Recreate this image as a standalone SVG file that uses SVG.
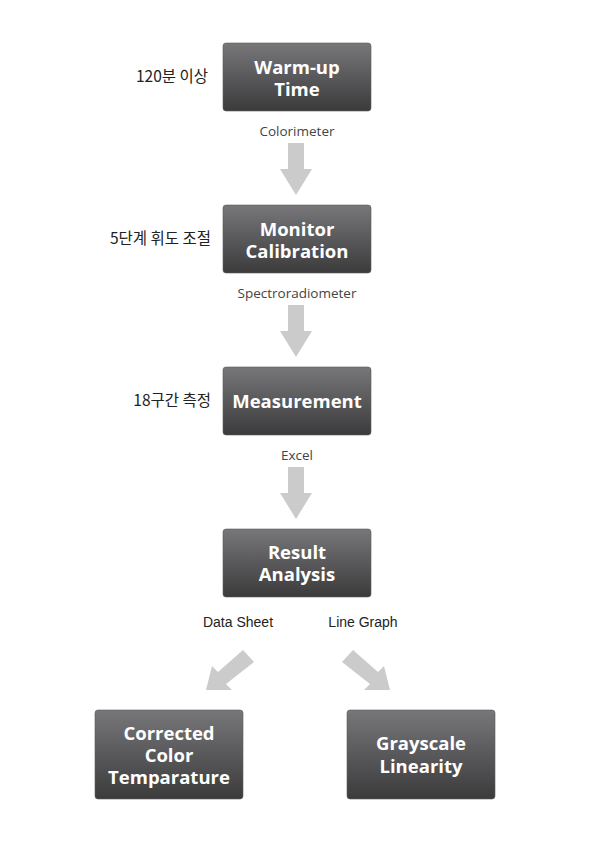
<svg xmlns="http://www.w3.org/2000/svg" width="596" height="842" viewBox="0 0 596 842">
<defs>
<linearGradient id="g" x1="0" y1="0" x2="0" y2="1">
<stop offset="0" stop-color="#77777a"/>
<stop offset="1" stop-color="#3b3b3c"/>
</linearGradient>
<style>
.box{fill:url(#g);stroke:#5a5a5a;stroke-width:0.6}
.t{font-family:"Open Sans","Liberation Sans",sans-serif;font-weight:bold;font-size:18.5px;fill:#fff;text-anchor:middle}
.l{font-family:"Open Sans","Liberation Sans",sans-serif;font-size:13.5px;fill:#444;text-anchor:middle}
.d{font-family:"Liberation Sans",sans-serif;font-size:14px;fill:#222;text-anchor:middle}
.k{font-family:"Noto Sans CJK KR","Liberation Sans",sans-serif;font-size:15.5px;fill:#222;text-anchor:end}
.a{fill:#cbcbcb}
</style>
</defs>
<rect width="596" height="842" fill="#fff"/>
<g id="connectors">
<polygon class="a" points="288,143 304,143 304,169 312,169 296,195 280,169 288,169"/>
<polygon class="a" points="288,305 304,305 304,331 312,331 296,357 280,331 288,331"/>
<polygon class="a" points="288,467 304,467 304,493 312,493 296,519 280,493 288,493"/>
<polygon class="a" points="243,650 254,662 226,684 232,690 206,690 212,666 218,672"/>
<polygon class="a" points="353,650 342,662 370,684 364,690 390,690 384,666 378,672"/>
</g>
<g id="labels">
<text class="l" x="297" y="136">Colorimeter</text>
<text class="l" x="297" y="298">Spectroradiometer</text>
<text class="l" x="297" y="460">Excel</text>
<text class="d" x="238" y="627">Data Sheet</text>
<text class="d" x="363" y="627">Line Graph</text>
<text class="k" x="208" y="82">120분 이상</text>
<text class="k" x="211" y="244">5단계 휘도 조절</text>
<text class="k" x="211" y="406">18구간 측정</text>
</g>
<g id="warmup">
<rect class="box" x="223" y="43" width="148" height="68" rx="3"/>
<text class="t" x="297" y="74">Warm-up</text>
<text class="t" x="297" y="96">Time</text>
</g>
<g id="calibration">
<rect class="box" x="223" y="205" width="148" height="68" rx="3"/>
<text class="t" x="297" y="236">Monitor</text>
<text class="t" x="297" y="258">Calibration</text>
</g>
<g id="measurement">
<rect class="box" x="223" y="367" width="148" height="68" rx="3"/>
<text class="t" x="297" y="408">Measurement</text>
</g>
<g id="analysis">
<rect class="box" x="223" y="529" width="148" height="68" rx="3"/>
<text class="t" x="297" y="559">Result</text>
<text class="t" x="297" y="581">Analysis</text>
</g>
<g id="cct">
<rect class="box" x="95" y="710" width="148" height="89" rx="3"/>
<text class="t" x="169" y="740">Corrected</text>
<text class="t" x="169" y="762">Color</text>
<text class="t" x="169" y="784">Temparature</text>
</g>
<g id="grayscale">
<rect class="box" x="347" y="710" width="148" height="89" rx="3"/>
<text class="t" x="421" y="750">Grayscale</text>
<text class="t" x="421" y="773">Linearity</text>
</g>
</svg>
